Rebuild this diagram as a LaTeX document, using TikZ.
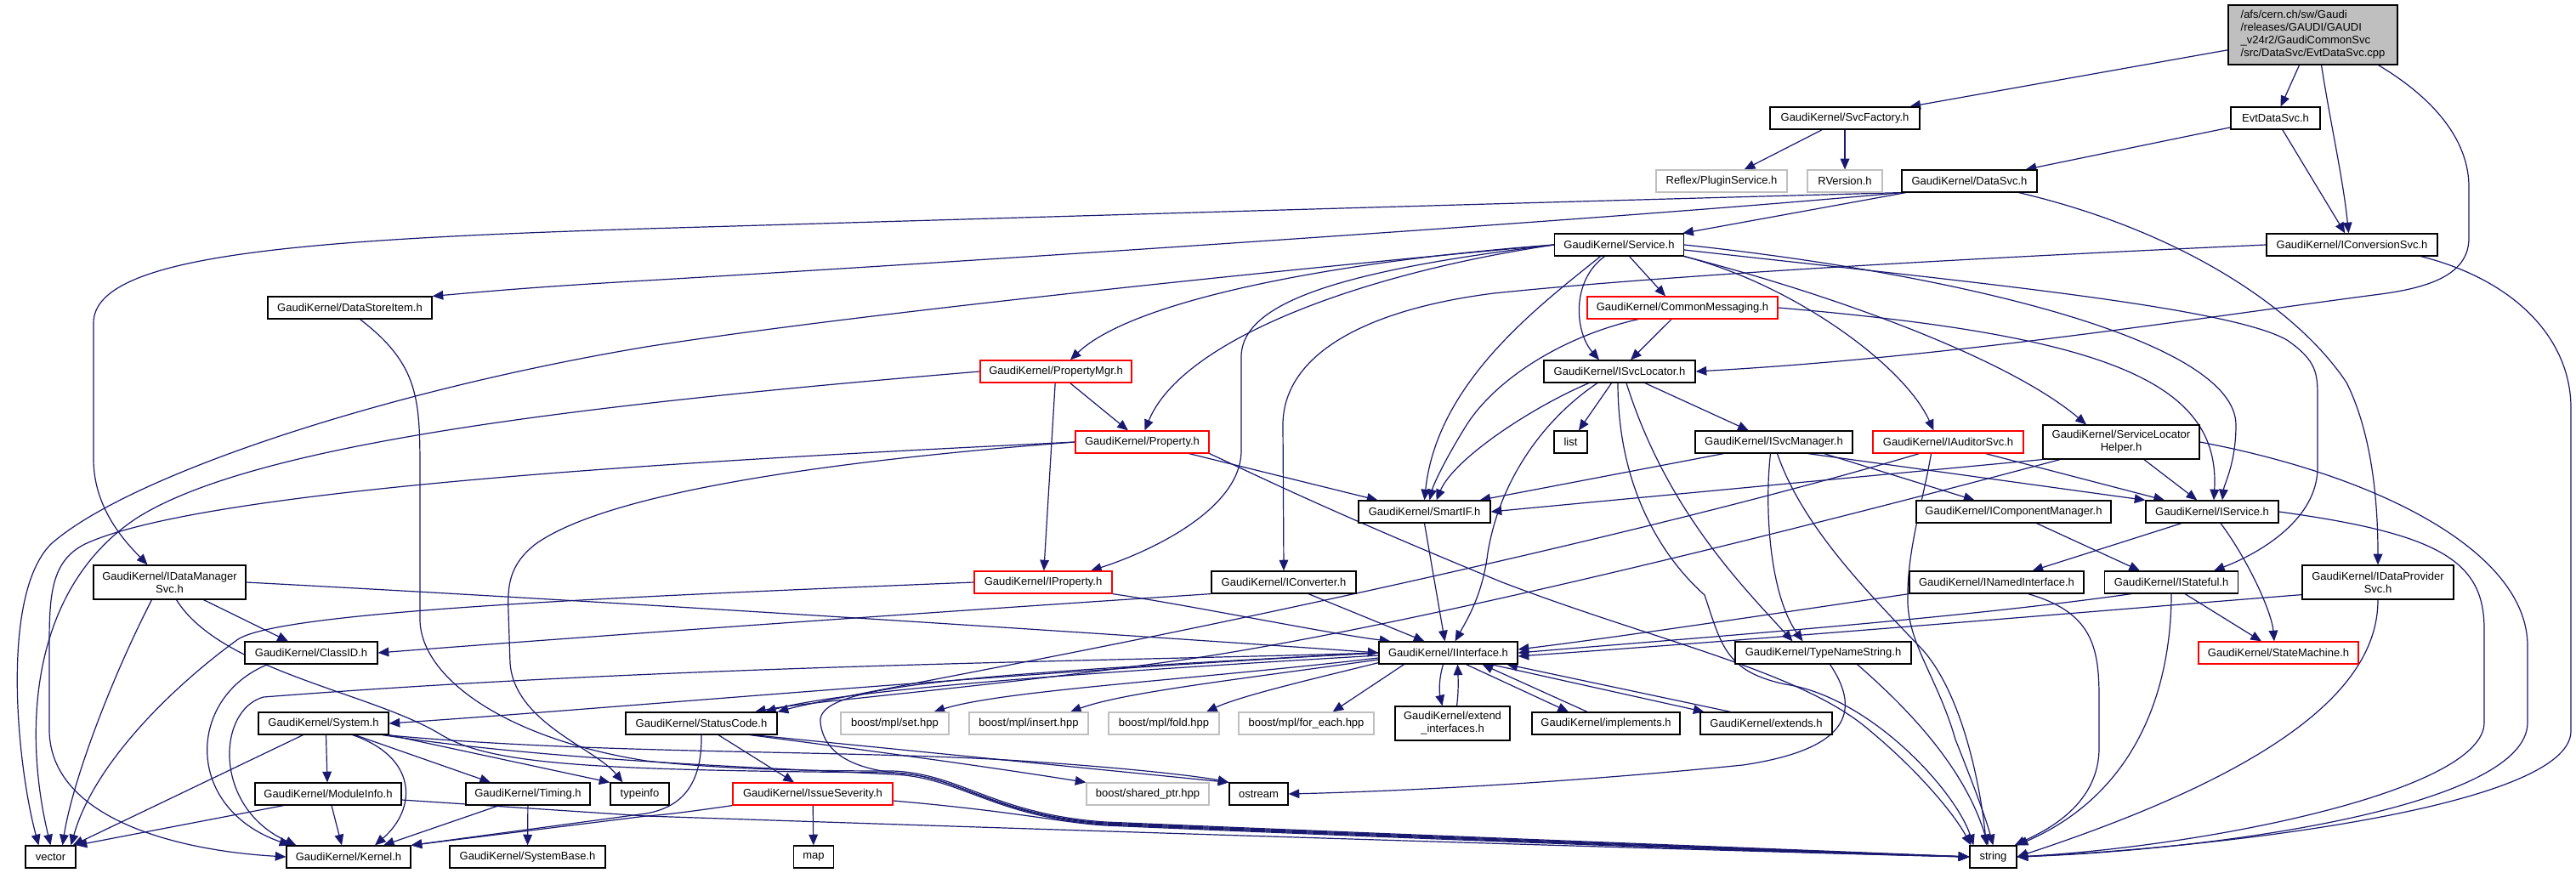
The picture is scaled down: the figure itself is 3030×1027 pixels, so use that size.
\documentclass[tikz,border=0pt]{standalone}
\usepackage{fontspec}
\setmainfont{Liberation Sans}
\usetikzlibrary{arrows.meta,calc}
\definecolor{edgec}{HTML}{191970}
\definecolor{grayb}{HTML}{BFBFBF}
\definecolor{redb}{HTML}{FF0000}
\pgfdeclarelayer{bg}
\pgfsetlayers{bg,main}
\begin{document}
\begin{tikzpicture}[x=0.75pt,y=-0.75pt,
  box/.style={draw=black, line width=0.9pt, fill=white, rectangle, inner sep=0pt, minimum height=19.5pt, font=\fontsize{9.75}{11.25}\selectfont, align=center},
  wd/.style={minimum width=#1*0.75pt},
  tall/.style={minimum height=30pt},
  redbox/.style={box, draw=redb},
  graybox/.style={box, draw=grayb},
  e/.style={draw=edgec, line width=0.9pt, -{Triangle[length=9.5pt,width=8pt]}},
]
\useasboundingbox (0,0) rectangle (3030,1027);
% nodes
\node[box,fill=grayb,wd=199,minimum height=52.5pt,align=left] (main) at (2720.5,41) {/afs/cern.ch/sw/Gaudi\\/releases/GAUDI/GAUDI\\\_v24r2/GaudiCommonSvc\\/src/DataSvc/EvtDataSvc.cpp};
\node[box,wd=176] (svcf) at (2170,139) {GaudiKernel/SvcFactory.h};
\node[box,wd=105] (evt) at (2676.5,139) {EvtDataSvc.h};
\node[graybox,wd=154] (plug) at (2025,213) {Reflex/PluginService.h};
\node[graybox,wd=88] (rver) at (2170,213) {RVersion.h};
\node[box,wd=159] (dsvc) at (2316.5,213) {GaudiKernel/DataSvc.h};
\node[box,wd=152] (serv) at (1904.5,288) {GaudiKernel/Service.h};
\node[box,wd=201] (iconv) at (2766.5,288) {GaudiKernel/IConversionSvc.h};
\node[box,wd=193] (dsi) at (411.5,362) {GaudiKernel/DataStoreItem.h};
\node[redbox,wd=224] (cmsg) at (1979,362) {GaudiKernel/CommonMessaging.h};
\node[redbox,wd=178] (pmgr) at (1242,437) {GaudiKernel/PropertyMgr.h};
\node[box,wd=178] (isl) at (1905,437) {GaudiKernel/ISvcLocator.h};
\node[redbox,wd=157] (prop) at (1343.5,520) {GaudiKernel/Property.h};
\node[box,wd=39] (lst) at (1847.5,520) {list};
\node[box,wd=185] (ism) at (2086.5,520) {GaudiKernel/ISvcManager.h};
\node[redbox,wd=177] (iaud) at (2291.5,520) {GaudiKernel/IAuditorSvc.h};
\node[box,wd=184,tall] (slh) at (2495,520) {GaudiKernel/ServiceLocator\\Helper.h};
\node[box,wd=155] (sif) at (1675.5,602) {GaudiKernel/SmartIF.h};
\node[box,wd=229] (icm) at (2368.5,602) {GaudiKernel/IComponentManager.h};
\node[box,wd=156] (isrv) at (2602,602) {GaudiKernel/IService.h};
\node[box,wd=179,tall] (idm) at (199.5,685) {GaudiKernel/IDataManager\\Svc.h};
\node[redbox,wd=162] (iprop) at (1227,685) {GaudiKernel/IProperty.h};
\node[box,wd=170] (icnv) at (1510,685) {GaudiKernel/IConverter.h};
\node[box,wd=205] (inam) at (2348.5,685) {GaudiKernel/INamedInterface.h};
\node[box,wd=157] (istf) at (2554,685) {GaudiKernel/IStateful.h};
\node[box,wd=178,tall] (idp) at (2797,685) {GaudiKernel/IDataProvider\\Svc.h};
\node[box,wd=156] (cid) at (366,768) {GaudiKernel/ClassID.h};
\node[box,wd=163] (iif) at (1703.5,768) {GaudiKernel/IInterface.h};
\node[box,wd=207] (tns) at (2144.5,768) {GaudiKernel/TypeNameString.h};
\node[redbox,wd=188] (stm) at (2680,768) {GaudiKernel/StateMachine.h};
\node[box,wd=153] (sys) at (380.5,851) {GaudiKernel/System.h};
\node[box,wd=178] (stc) at (825,851) {GaudiKernel/StatusCode.h};
\node[graybox,wd=127] (mset) at (1052.5,851) {boost/mpl/set.hpp};
\node[graybox,wd=140] (mins) at (1210,851) {boost/mpl/insert.hpp};
\node[graybox,wd=130] (mfold) at (1369,851) {boost/mpl/fold.hpp};
\node[graybox,wd=159] (mfe) at (1536.5,851) {boost/mpl/for\_each.hpp};
\node[box,wd=135,tall] (ext) at (1708.5,851) {GaudiKernel/extend\\\_interfaces.h};
\node[box,wd=174] (impl) at (1889,851) {GaudiKernel/implements.h};
\node[box,wd=155] (exts) at (2077.5,851) {GaudiKernel/extends.h};
\node[box,wd=172] (modi) at (386,934) {GaudiKernel/ModuleInfo.h};
\node[box,wd=146] (tim) at (621,934) {GaudiKernel/Timing.h};
\node[box,wd=69] (tinf) at (752.5,934) {typeinfo};
\node[redbox,wd=188] (isev) at (956,934) {GaudiKernel/IssueSeverity.h};
\node[graybox,wd=144] (shp) at (1350,934) {boost/shared\_ptr.hpp};
\node[box,wd=69] (ostr) at (1480.5,934) {ostream};
\node[box,wd=59] (vec) at (59.5,1008) {vector};
\node[box,wd=146] (kern) at (410,1008) {GaudiKernel/Kernel.h};
\node[box,wd=183] (sysb) at (620.5,1008) {GaudiKernel/SystemBase.h};
\node[box,wd=47] (map) at (957,1008) {map};
\node[box,wd=55] (str) at (2344.5,1008) {string};

\begin{pgfonlayer}{bg}
\fill[white] (0,0) rectangle (3030,1027);
% main
\draw[e] (main) -- (svcf);
\draw[e] (main) -- (evt);
\draw[e] ($(main.south)+(10,0)$) .. controls (2742,150) and (2756,210) .. ($(iconv.north)+(-4,0)$);
\draw[e] ($(main.south)+(77,0)$) .. controls (2870,120) and (2904,170) .. (2904,220) -- (2904,280) .. controls (2904,322) and (2860,338) .. (2800,346) .. controls (2600,372) and (2300,420) .. (isl.east);
\draw[e] (svcf) -- (plug);
\draw[e] (svcf) -- (rver);
\draw[e] (evt) -- (dsvc);
\draw[e] (evt) -- (iconv);
% DataSvc
\draw[e] (dsvc) -- (serv);
\draw[e] (dsvc.south west) .. controls (1800,238) and (1000,262) .. (760,269) .. controls (350,282) and (110,300) .. (110,380) -- (110,540) .. controls (110,600) and (150,640) .. ($(idm.north)+(-26,0)$);
\draw[e] (dsvc.south west) .. controls (1900,258) and (1100,310) .. (760,330) .. controls (620,338) and (560,344) .. (dsi.north east);
\draw[e] ($(dsvc.south)+(58,0)$) .. controls (2560,270) and (2700,360) .. (2760,450) .. controls (2790,510) and (2797,590) .. (idp.north);
% IConversionSvc
\draw[e] (iconv.west) .. controls (2400,300) and (2000,320) .. (1757,345) .. controls (1600,365) and (1509,420) .. (1509,500) -- (icnv.north);
\draw[e] ($(iconv.south east)+(-20,0)$) .. controls (2960,330) and (3024,400) .. (3024,480) -- (3024,860) .. controls (3024,950) and (2600,998) .. (str.east);
% Service
\draw[e] (serv.west) .. controls (1500,318) and (1000,370) .. (760,408) .. controls (450,460) and (150,560) .. (60,640) .. controls (0,700) and (20,900) .. ($(vec.north)+(-14,0)$);
\draw[e] (serv.west) .. controls (1560,308) and (1330,355) .. ($(pmgr.north)+(17,0)$);
\draw[e] (serv.west) .. controls (1600,322) and (1390,400) .. ($(prop.north)+(3,0)$);
\draw[e] (serv.west) .. controls (1580,318) and (1460,355) .. (1460,420) -- (1460,530) .. controls (1460,600) and (1350,650) .. ($(iprop.north)+(56,0)$);
\draw[e] ($(serv.south)+(12,0)$) -- ($(cmsg.north)+(-20,0)$);
\draw[e] ($(serv.south)+(-17,0)$) .. controls (1848,330) and (1852,390) .. ($(isl.north)+(-24,0)$);
\draw[e] ($(serv.south)+(-22,0)$) .. controls (1810,360) and (1690,450) .. (sif.north);
\draw[e] (serv.south east) .. controls (2110,335) and (2240,430) .. ($(iaud.north)+(-17,0)$);
\draw[e] (serv.south east) .. controls (2150,345) and (2360,420) .. ($(slh.north)+(-41,0)$);
\draw[e] (serv.east) .. controls (2300,322) and (2630,400) .. (2630,500) .. controls (2630,545) and (2616,570) .. ($(isrv.north)+(12,0)$);
\draw[e] ($(serv.east)+(0,6)$) .. controls (2300,330) and (2620,360) .. (2690,400) .. controls (2726,425) and (2726,440) .. (2726,470) -- (2726,550) .. controls (2726,610) and (2660,650) .. ($(istf.north)+(50,0)$);
% CommonMessaging
\draw[e] ($(cmsg.south)+(-13,0)$) -- ($(isl.north)+(13,0)$);
\draw[e] ($(cmsg.south)+(-52,0)$) .. controls (1840,395) and (1760,445) .. (1725,500) .. controls (1700,540) and (1686,570) .. ($(sif.north)+(6,0)$);
\draw[e] (cmsg.east) .. controls (2480,395) and (2612,450) .. ($(isrv.north)+(2,0)$);
% ISvcLocator
\draw[e] (isl) -- (lst);
\draw[e] (isl) -- (ism);
\draw[e] ($(isl.south)+(-36,0)$) .. controls (1800,480) and (1710,540) .. ($(sif.north)+(14,0)$);
\draw[e] ($(isl.south)+(-26,0)$) .. controls (1820,490) and (1765,560) .. (1750,650) .. controls (1744,700) and (1725,730) .. ($(iif.north)+(8,0)$);
\draw[e] ($(isl.south)+(-2,0)$) .. controls (1903,580) and (1960,660) .. (2005,700) .. controls (2025,760) and (2030,790) .. (2100,805) .. controls (2200,820) and (2300,930) .. ($(str.north west)+(5,0)$);
\draw[e] ($(isl.south)+(8,0)$) .. controls (1960,600) and (2050,690) .. ($(tns.north)+(-36,0)$);
% ISvcManager
\draw[e] ($(ism.south)+(-59,0)$) -- ($(sif.north)+(65,0)$);
\draw[e] ($(ism.south)+(59,0)$) -- ($(icm.north)+(-46,0)$);
\draw[e] ($(ism.south)+(40,0)$) -- (isrv.north west);
\draw[e] ($(ism.south)+(-4,0)$) .. controls (2075,600) and (2082,700) .. ($(tns.north)+(-24,0)$);
\draw[e] ($(ism.south)+(4,0)$) .. controls (2120,620) and (2200,700) .. (2262,765) .. controls (2310,820) and (2330,930) .. ($(str.north)+(-8,0)$);
% IAuditorSvc
\draw[e] ($(iaud.south)+(44,0)$) -- ($(isrv.north)+(-56,0)$);
\draw[e] ($(iaud.south)+(-20,0)$) .. controls (2262,590) and (2242,650) .. (2244,710) .. controls (2246,760) and (2280,800) .. (2300,870) .. controls (2320,920) and (2335,960) .. (str.north);
\draw[e] ($(iaud.south)+(-34,0)$) .. controls (2000,610) and (1600,700) .. (1300,760) .. controls (1100,800) and (960,825) .. (stc.north east);
% ServiceLocatorHelper
\draw[e] (slh.south west) -- (sif.east);
\draw[e] (slh) -- (isrv);
\draw[e] (slh.east) .. controls (2800,560) and (2973,650) .. (2973,760) -- (2973,850) .. controls (2973,950) and (2600,1000) .. (str.east);
\draw[e] ($(slh.south)+(-72,0)$) .. controls (2200,600) and (1700,730) .. (1400,775) .. controls (1150,810) and (950,825) .. ($(stc.north)+(63,0)$);
% SmartIF, IComponentManager, IService
\draw[e] (sif.south) -- ($(iif.north)+(-4,0)$);
\draw[e] ($(icm.south)+(27,0)$) -- ($(istf.north)+(-37,0)$);
\draw[e] ($(isrv.south)+(-36,0)$) -- ($(inam.north)+(42,0)$);
\draw[e] ($(isrv.south)+(10,0)$) .. controls (2645,660) and (2672,720) .. ($(stm.north)+(-5,0)$);
\draw[e] (isrv.east) .. controls (2870,628) and (2922,660) .. (2922,740) -- (2922,850) .. controls (2922,930) and (2600,995) .. (str.east);
% INamedInterface
\draw[e] (inam.south west) .. controls (2100,720) and (1900,750) .. ($(iif.east)+(0,-4)$);
\draw[e] ($(inam.south)+(37,0)$) .. controls (2460,720) and (2469,760) .. (2469,820) -- (2469,880) .. controls (2469,950) and (2400,980) .. ($(str.north east)+(-3,0)$);
% IStateful
\draw[e] ($(istf.south)+(-47,0)$) .. controls (2300,728) and (2000,750) .. (iif.east);
\draw[e] ($(istf.south)+(16,0)$) -- ($(stm.north)+(-20,0)$);
\draw[e] (istf.south) .. controls (2554,800) and (2520,930) .. (str.north east);
% IDataProviderSvc
\draw[e] ($(idp.south west)+(0,-6)$) .. controls (2450,720) and (2100,750) .. ($(iif.east)+(0,4)$);
\draw[e] (idp.south) .. controls (2797,800) and (2700,900) .. (str.east);
% IDataManagerSvc
\draw[e] ($(idm.south)+(-21,0)$) .. controls (130,800) and (85,920) .. ($(vec.north)+(14,0)$);
\draw[e] ($(idm.south)+(40,0)$) -- ($(cid.north)+(-27,0)$);
\draw[e] (idm.east) .. controls (800,712) and (1400,752) .. (iif.west);
\draw[e] ($(idm.south)+(8,0)$) .. controls (260,790) and (440,815) .. (520,865) .. controls (580,900) and (700,906) .. (1050,909) .. controls (1130,912) and (1170,960) .. (1300,968) .. controls (1700,985) and (2100,1000) .. (str.west);
% IProperty
\draw[e] (iprop.south east) .. controls (1400,712) and (1560,745) .. ($(iif.north west)+(14,0)$);
\draw[e] (iprop.west) .. controls (700,703) and (330,720) .. (280,752) .. controls (200,810) and (110,900) .. ($(vec.north)+(24,0)$);
% IConverter
\draw[e] (icnv.south west) .. controls (1100,720) and (700,748) .. (cid.east);
\draw[e] ($(icnv.south)+(29,0)$) -- ($(iif.north)+(-28,0)$);
% ClassID
\draw[e] ($(cid.south)+(-51,0)$) .. controls (220,820) and (215,950) .. ($(kern.north west)+(5,0)$);
% IInterface
\draw[e] (iif.west) .. controls (1200,790) and (700,835) .. (sys.east);
\draw[e] ($(iif.west)+(0,3)$) .. controls (1300,790) and (1000,810) .. ($(stc.north)+(75,0)$);
\draw[e] ($(iif.west)+(0,6)$) .. controls (1400,800) and (1180,812) .. ($(mset.north)+(46,0)$);
\draw[e] ($(iif.west)+(0,8)$) .. controls (1450,800) and (1320,815) .. ($(mins.north)+(49,0)$);
\draw[e] ($(iif.south west)+(0,-2)$) .. controls (1560,795) and (1460,818) .. ($(mfold.north)+(50,0)$);
\draw[e] ($(iif.south)+(-52,0)$) -- ($(mfe.north)+(31,0)$);
\draw[e] ($(iif.south)+(-6,0)$) .. controls (1692,800) and (1693,815) .. ($(ext.north)+(-12,0)$);
\draw[e] ($(ext.north)+(5,0)$) .. controls (1716,812) and (1715,795) .. ($(iif.south)+(11,0)$);
\draw[e] ($(iif.south)+(21,0)$) -- ($(impl.north)+(-44,0)$);
\draw[e] ($(impl.north)+(-22,0)$) -- ($(iif.south)+(40,0)$);
\draw[e] ($(iif.south)+(50,0)$) -- ($(exts.north)+(-73,0)$);
\draw[e] ($(exts.north)+(-42,0)$) -- ($(iif.south)+(69,0)$);
\draw[e] (iif.west) .. controls (1300,778) and (800,782) .. (310,820) .. controls (255,835) and (250,950) .. ($(kern.north west)+(12,0)$);
\draw[e] (iif.west) .. controls (1100,795) and (960,808) .. (965,850) .. controls (970,895) and (1020,906) .. (1060,910) .. controls (1130,914) and (1170,960) .. (1300,969) .. controls (1700,986) and (2100,1001) .. (str.west);
% TypeNameString
\draw[e] ($(tns.south)+(8,0)$) .. controls (2185,830) and (2185,880) .. (2050,900) .. controls (1800,925) and (1600,932) .. (ostr.east);
\draw[e] ($(tns.south)+(40,0)$) .. controls (2240,830) and (2310,900) .. ($(str.north)+(-6,0)$);
% System
\draw[e] ($(sys.south)+(-24,0)$) -- ($(vec.north east)+(-4,0)$);
\draw[e] ($(sys.south)+(3,0)$) -- ($(modi.north)+(-1,0)$);
\draw[e] ($(sys.south)+(34,0)$) .. controls (490,890) and (492,950) .. ($(kern.north)+(31,0)$);
\draw[e] ($(sys.south)+(37,0)$) -- ($(tim.north)+(-44,0)$);
\draw[e] (sys.south east) -- (tinf.north west);
\draw[e] ($(sys.south east)+(-4,0)$) .. controls (700,888) and (1000,882) .. (1200,895) .. controls (1350,905) and (1420,915) .. (ostr.north west);
\draw[e] ($(sys.south east)+(-8,0)$) .. controls (650,895) and (900,903) .. (1050,911) .. controls (1130,914) and (1170,962) .. (1300,970) .. controls (1700,987) and (2100,1002) .. (str.west);
% StatusCode
\draw[e] ($(stc.south)+(20,0)$) -- ($(isev.north)+(-22,0)$);
\draw[e] (stc.south) .. controls (826,925) and (800,950) .. (760,957) -- (kern.north east);
\draw[e] ($(stc.south)+(61,0)$) -- (ostr.north west);
\draw[e] ($(stc.south)+(57,0)$) .. controls (1000,880) and (1150,900) .. (shp.north west);
% IssueSeverity
\draw[e] (isev) -- (map);
\draw[e] (isev.south west) .. controls (830,952) and (790,958) .. (760,960) -- (kern.north east);
\draw[e] ($(isev.east)+(0,8)$) .. controls (1200,955) and (1250,968) .. (1300,971) .. controls (1700,988) and (2100,1003) .. (str.west);
% ModuleInfo
\draw[e] ($(modi.south west)+(34,0)$) -- (vec.north east);
\draw[e] ($(modi.south)+(4,0)$) -- ($(kern.north)+(-8,0)$);
\draw[e] ($(modi.east)+(0,7)$) -- (760,960) .. controls (1500,985) and (2100,1003) .. (str.west);
% Timing
\draw[e] ($(tim.south)+(-34,0)$) -- ($(kern.north)+(41,0)$);
\draw[e] (tim) -- (sysb);
% DataStoreItem
\draw[e] ($(dsi.south)+(12,0)$) .. controls (494,430) and (494,470) .. (494,560) -- (494,730) .. controls (496,800) and (600,870) .. (760,895) .. controls (850,905) and (950,907) .. (1050,907) .. controls (1130,910) and (1170,958) .. (1300,967) .. controls (1700,984) and (2100,999) .. (str.west);
% PropertyMgr / Property
\draw[e] (pmgr) -- (prop);
\draw[e] (pmgr) -- (iprop);
\draw[e] (pmgr.west) .. controls (700,475) and (300,520) .. (160,610) .. controls (40,690) and (25,850) .. (vec.north);
\draw[e] (prop) -- (sif);
\draw[e] (prop.west) .. controls (900,538) and (250,570) .. (100,640) .. controls (60,660) and (58,700) .. (58,760) -- (58,860) .. controls (60,960) and (200,1000) .. (kern.west);
\draw[e] (prop.west) .. controls (900,548) and (700,590) .. (630,640) .. controls (598,665) and (597,690) .. (598,720) -- (600,780) .. controls (605,850) and (700,880) .. ($(tinf.north)+(-20,0)$);
\draw[e] (prop.south east) .. controls (1480,560) and (1560,600) .. (1767,685) .. controls (1950,755) and (2120,790) .. (2200,860) .. controls (2260,910) and (2300,960) .. ($(str.north west)+(2,0)$);
\end{pgfonlayer}
\end{tikzpicture}
\end{document}
